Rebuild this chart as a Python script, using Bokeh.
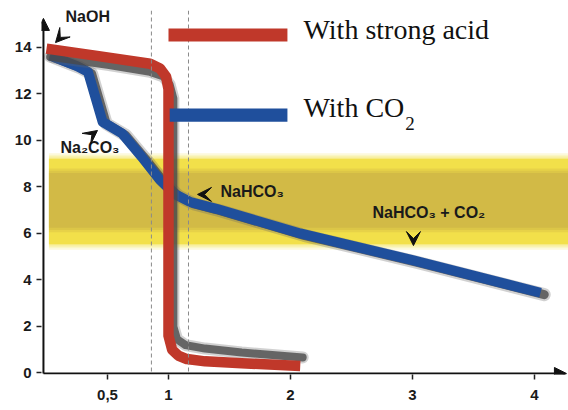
from bokeh.plotting import figure
from bokeh.models import (Label, Arrow, NormalHead, VeeHead, Span, BoxAnnotation,
                          FixedTicker, CustomJSTickFormatter)
from bokeh.embed import file_html
from bokeh.resources import INLINE

# ---------------- data ----------------
# titration with strong acid (red) and its grey printed shadow
acid_x = [0.0, 0.4, 0.85, 0.93, 0.98, 1.0, 1.0, 1.0, 1.03, 1.08, 1.15, 1.3, 1.6, 2.08]
acid_ph = [13.95, 13.65, 13.3, 13.1, 12.75, 12.2, 3.0, 1.6, 1.0, 0.75, 0.6, 0.5, 0.42, 0.3]
acid_shadow_x = [0.03, 0.5, 0.85, 0.96, 1.01, 1.04, 1.04, 1.07, 1.14, 1.3, 1.6, 2.1]
acid_shadow_ph = [13.6, 13.25, 12.95, 12.75, 12.4, 11.8, 2.0, 1.45, 1.2, 1.05, 0.88, 0.67]

# titration with CO2 (blue)
co2_x = [0.03, 0.25, 0.34, 0.46, 0.62, 0.78, 0.93, 1.05, 1.18, 1.4, 2.08, 3.0, 4.05]
co2_ph = [13.65, 13.2, 12.95, 10.8, 10.3, 9.3, 8.3, 7.7, 7.35, 7.05, 6.0, 4.85, 3.45]

# yellow band (pH ranges)
band_outer = [5.55, 9.2]
band_inner = [6.25, 8.6]
band_x = [0.02, 4.3]

# dashed equivalence lines
equiv_x = [0.86, 1.164]

x_ticks = [0.5, 1, 2, 3, 4]
x_tick_labels = ["0,5", "1", "2", "3", "4"]
y_ticks = [0, 2, 4, 6, 8, 10, 12, 14]

# species annotations: text, text x, text baseline pH, arrow start, arrow tip
species = [
    ("NaOH", 0.156, 14.95, (0.18, 14.82), (0.074, 14.21)),
    ("Na\u2082CO\u2083", 0.115, 9.35, (0.31, 10.0), (0.418, 10.43)),
    ("NaHCO\u2083", 1.426, 7.42, (1.40, 7.68), (1.238, 7.68)),
    ("NaHCO\u2083 + CO\u2082", 2.672, 6.52, (3.008, 6.04), (3.008, 5.48)),
]

RED = "#c0382a"
BLUE = "#1f4f9c"
X_START, X_END = -0.041, 4.279
Y_START, Y_END = -0.065, 15.59
AX_X, AX_Y = -0.025, -0.02

p = figure(width=568, height=410, output_backend="svg", toolbar_location=None,
           x_range=(X_START, X_END), y_range=(Y_START, Y_END),
           min_border_left=41, min_border_right=0, min_border_top=10, min_border_bottom=36)
p.outline_line_color = None
p.grid.visible = False
p.background_fill_color = "white"

# axes
for ax in (p.xaxis[0], p.yaxis[0]):
    ax.axis_line_color = None
    ax.major_tick_line_color = "#222222"
    ax.major_tick_line_width = 1.5
    ax.major_tick_out = 5
    ax.major_tick_in = 0
    ax.minor_tick_line_color = None
    ax.major_label_text_font = "Liberation Sans"
    ax.major_label_text_font_style = "bold"
    ax.major_label_text_font_size = "15px"
    ax.major_label_text_color = "#1a1a1a"
p.xaxis.ticker = FixedTicker(ticks=x_ticks)
p.xaxis.formatter = CustomJSTickFormatter(
    args=dict(t=x_ticks, l=x_tick_labels),
    code="const i = t.indexOf(tick); return i >= 0 ? l[i] : '';")
p.xaxis.major_label_standoff = 10
p.yaxis.ticker = FixedTicker(ticks=y_ticks)
p.yaxis.major_label_standoff = 5

# yellow band with soft edges
for grow, a in [(0.25, 0.2), (0.15, 0.3), (0.06, 0.45), (0.0, 1.0)]:
    p.quad(left=[band_x[0]], right=[band_x[1]], bottom=[band_outer[0] - grow],
           top=[band_outer[1] + grow], fill_color="#f2e04a", fill_alpha=a, line_color=None)
for grow, a in [(0.2, 0.3), (0.1, 0.4), (0.0, 0.65)]:
    p.quad(left=[band_x[0]], right=[band_x[1]], bottom=[band_inner[0] - grow],
           top=[band_inner[1] + grow], fill_color="#cdb346", fill_alpha=a, line_color=None)

# dashed lines
for xv in equiv_x:
    p.add_layout(Span(location=xv, dimension="height", line_color="#8a8a8a",
                      line_width=1, line_dash="4 3"))

# blue curve with shadow
co2_sx = [v + 0.03 for v in co2_x]
co2_sy = [v - 0.08 for v in co2_ph]
p.line(co2_sx, co2_sy, line_width=13, line_color="#666666", line_alpha=0.3,
       line_join="round", line_cap="round")
p.line(co2_sx, co2_sy, line_width=9, line_color="#4a4a4a", line_alpha=0.8,
       line_join="round", line_cap="round")
p.line(co2_x, co2_ph, line_width=10, line_color=BLUE, line_join="round", line_cap="butt")

# red curve with shadow
p.line(acid_shadow_x, acid_shadow_ph, line_width=12, line_color="#666666", line_alpha=0.3,
       line_join="round", line_cap="round")
p.line(acid_shadow_x, acid_shadow_ph, line_width=8, line_color="#4a4a4a", line_alpha=0.8,
       line_join="round", line_cap="round")
p.line(acid_x, acid_ph, line_width=10.5, line_color=RED, line_join="round", line_cap="butt")

# axis lines with arrow heads
p.add_layout(Arrow(end=NormalHead(size=12, fill_color="#111111", line_color="#111111"),
                   x_start=AX_X, y_start=AX_Y, x_end=4.262, y_end=AX_Y,
                   line_width=2, line_color="#111111"))
p.add_layout(Arrow(end=NormalHead(size=12, fill_color="#111111", line_color="#111111"),
                   x_start=AX_X, y_start=AX_Y, x_end=AX_X, y_end=15.25,
                   line_width=2, line_color="#111111"))

p.add_layout(Label(x=-0.311, y=14.82, text="pH", text_font="Liberation Sans",
                   text_font_style="bold", text_font_size="19px", text_color="#111111"))

# species labels and arrowheads
for name, tx, ty, (sx, sy), (ex, ey) in species:
    p.add_layout(Label(x=tx, y=ty, text=name, text_font="Liberation Sans",
                       text_font_style="bold", text_font_size="16px", text_color="#1a1a1a"))
    p.add_layout(Arrow(end=VeeHead(size=14, fill_color="#111111", line_color="#111111"),
                       x_start=sx, y_start=sy, x_end=ex, y_end=ey,
                       line_alpha=0, line_width=0))

# legend
p.add_layout(BoxAnnotation(left=1.0, right=1.975, bottom=14.26, top=14.82,
                           fill_color=RED, fill_alpha=1, line_color=None))
p.add_layout(BoxAnnotation(left=1.01, right=1.975, bottom=10.81, top=11.37,
                           fill_color=BLUE, fill_alpha=1, line_color=None))
p.add_layout(Label(x=2.107, y=14.09, text="With strong acid", text_font="Liberation Serif",
                   text_font_size="28px", text_color="#111111"))
p.add_layout(Label(x=2.107, y=10.77, text="With CO", text_font="Liberation Serif",
                   text_font_size="28px", text_color="#111111"))
p.add_layout(Label(x=2.94, y=10.47, text="2", text_font="Liberation Serif",
                   text_font_size="19px", text_color="#111111"))

open("out.html", "w").write(file_html(p, INLINE))
